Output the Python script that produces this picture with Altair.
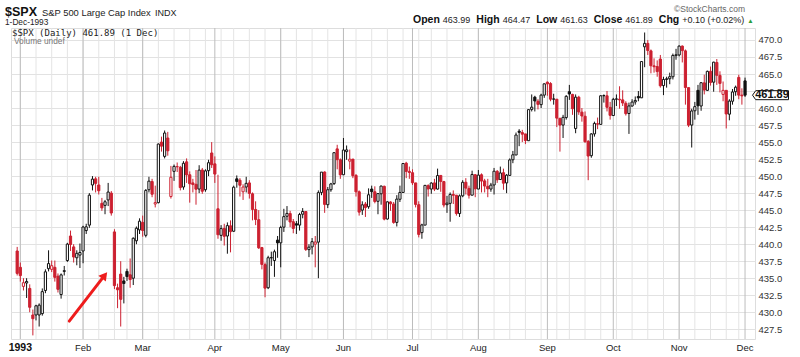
import altair as alt
import pandas as pd

# ---------------- data ----------------
PREV_CLOSE = 438.82  # close before the first candle (30-Dec-1992)
HOLIDAYS = ["1993-02-15", "1993-04-09", "1993-05-31", "1993-07-05", "1993-09-06", "1993-11-25"]
MONTH_LABELS = ["1993", "Feb", "Mar", "Apr", "May", "Jun", "Jul", "Aug", "Sep", "Oct", "Nov", "Dec"]
Y_TICKS = [427.5, 430.0, 432.5, 435.0, 437.5, 440.0, 442.5, 445.0, 447.5, 450.0,
           452.5, 455.0, 457.5, 460.0, 462.5, 465.0, 467.5, 470.0]

OPEN = [439.0,
    436.6, 433.8, 434.3, 433.5, 429.6, 429.6, 429.6, 429.8, 433.2, 436.4, 436.3, 436.6, 435.3, 432.6, 436.0, 437.6, 441.2, 439.6, 438.0, 438.4,
    439.0, 442.0, 442.8, 448.7, 449.6, 448.7, 446.0, 445.7, 446.5, 447.5, 441.8, 433.6, 435.6, 434.6, 436.0, 435.5, 435.0, 440.5, 442.1,
    443.2, 441.3, 448.0, 449.2, 445.9, 446.1, 455.0, 452.9, 455.6, 447.0, 450.7, 451.4, 451.3, 448.4, 452.1, 450.2, 449.0, 448.8, 448.1, 450.9, 448.0, 450.8, 453.4,
    451.8, 445.2, 441.3, 442.3, 441.2, 442.7, 441.9, 449.6, 449.4, 447.7, 448.4, 449.0, 447.4, 445.1, 443.6, 439.5, 437.0, 433.6, 438.0, 437.6, 440.6,
    440.2, 442.5, 444.1, 444.5, 443.3, 443.0, 442.8, 444.4, 444.8, 439.2, 439.6, 440.0, 440.3, 447.6, 450.6, 445.8, 448.0, 448.9, 454.0, 452.4,
    450.2, 453.6, 452.2, 452.5, 450.1, 447.7, 445.0, 445.9, 445.5, 448.1, 447.7, 446.3, 447.4, 448.5, 443.7, 446.2, 445.9, 443.2, 446.6, 447.6, 451.9, 450.7,
    450.5, 449.0, 445.8, 441.7, 442.8, 448.6, 448.1, 449.0, 448.1, 450.1, 449.2, 445.8, 446.0, 447.3, 447.2, 444.5, 447.1, 449.1, 448.2, 447.2, 450.2,
    448.1, 450.2, 449.3, 448.5, 448.1, 448.7, 450.7, 449.5, 450.5, 449.0, 450.1, 452.4, 453.1, 456.6, 456.4, 456.2, 455.2, 459.8, 461.6, 461.0, 460.5, 461.9,
    463.8, 463.6, 461.3, 461.3, 458.5, 457.5, 458.6, 462.4, 462.0, 457.0, 461.6, 459.4, 458.8, 455.1, 453.0, 456.2, 457.7, 457.6, 461.8, 461.8, 460.1,
    458.9, 461.3, 461.3, 461.2, 460.7, 459.2, 460.3, 460.9, 461.7, 461.5, 469.0, 469.5, 468.4, 466.2, 466.1, 467.2, 463.3, 464.2, 464.3, 464.6, 467.7,
    467.8, 469.1, 468.4, 463.0, 457.5, 459.6, 462.6, 460.3, 463.7, 462.6, 465.4, 463.8, 466.7, 464.8, 462.0, 462.6, 459.1, 461.0, 462.4, 464.5, 461.9,
    463.99]

HIGH = [439.6,
    437.3, 435.0, 435.0, 434.1, 430.4, 431.1, 431.3, 433.5, 436.3, 439.1, 437.6, 437.6, 435.7, 435.7, 436.8, 440.2, 442.0, 440.0, 439.1, 440.1,
    442.7, 443.0, 447.5, 450.0, 449.9, 449.9, 446.8, 446.5, 449.0, 447.8, 442.2, 434.2, 437.5, 435.2, 436.4, 437.9, 441.0, 442.6, 443.8,
    444.2, 448.1, 449.9, 449.6, 448.6, 454.8, 455.8, 456.7, 456.5, 451.5, 451.7, 452.0, 451.5, 452.2, 452.6, 450.7, 449.6, 450.9, 451.6, 451.2, 451.0, 452.4, 455.0,
    452.9, 450.2, 442.8, 443.0, 443.2, 443.5, 448.6, 450.1, 449.7, 448.8, 449.9, 449.4, 447.6, 446.3, 445.0, 439.6, 437.3, 438.3, 438.9, 439.2, 441.2,
    442.7, 445.2, 445.6, 444.9, 443.7, 443.4, 444.6, 445.3, 444.8, 440.0, 440.9, 441.2, 447.9, 450.6, 450.7, 448.4, 449.0, 453.5, 454.6, 452.6,
    455.6, 454.5, 453.9, 452.5, 450.3, 447.9, 446.3, 446.2, 448.2, 448.6, 448.5, 447.5, 448.6, 448.6, 446.3, 446.3, 446.2, 447.2, 448.6, 451.9, 452.1, 451.4,
    451.0, 449.0, 446.3, 443.0, 448.7, 448.8, 449.1, 449.6, 451.1, 450.1, 449.3, 447.1, 447.6, 447.9, 447.2, 447.3, 449.4, 449.7, 448.6, 450.8, 450.3,
    450.9, 450.4, 449.6, 449.6, 449.0, 451.2, 450.9, 451.4, 451.1, 450.3, 452.6, 453.7, 456.4, 456.9, 456.8, 456.2, 459.8, 462.0, 461.8, 461.3, 462.1, 463.6,
    463.9, 463.8, 462.1, 461.3, 458.5, 459.0, 461.9, 463.4, 462.1, 462.0, 461.8, 460.0, 459.5, 455.3, 456.3, 458.0, 458.6, 461.9, 462.0, 462.5, 460.9,
    461.5, 462.0, 463.2, 462.6, 461.0, 460.8, 461.3, 461.7, 462.5, 466.9, 471.1, 470.0, 468.6, 467.3, 467.0, 467.8, 464.6, 464.6, 465.2, 468.0, 468.7,
    469.2, 469.2, 468.6, 463.0, 459.9, 460.9, 463.4, 463.8, 464.9, 465.5, 466.1, 466.8, 467.2, 465.4, 463.9, 462.6, 461.3, 462.8, 463.3, 464.9, 462.9,
    464.47]

LOW = [435.4,
    434.5, 433.2, 432.1, 430.0, 426.6, 428.8, 427.9, 429.5, 432.8, 436.0, 435.9, 434.5, 432.9, 432.0, 435.4, 437.4, 439.0, 437.3, 436.9, 436.5,
    437.2, 441.5, 442.4, 447.9, 447.6, 447.3, 444.9, 444.4, 445.6, 444.2, 433.4, 430.6, 427.9, 431.3, 434.6, 433.6, 434.0, 440.0, 441.5,
    441.1, 441.0, 447.6, 446.9, 445.4, 446.0, 453.6, 452.6, 453.0, 446.7, 449.3, 450.6, 447.9, 448.0, 449.0, 446.1, 447.6, 445.8, 447.5, 447.4, 447.7, 450.0, 451.2,
    449.0, 440.8, 440.5, 439.8, 438.6, 438.8, 441.8, 448.3, 447.0, 446.5, 447.6, 446.7, 443.5, 442.8, 439.3, 436.3, 432.2, 433.4, 436.8, 435.2, 438.0,
    436.6, 441.8, 443.5, 442.5, 441.6, 441.5, 442.0, 443.8, 439.0, 438.1, 438.5, 436.6, 435.0, 447.2, 444.6, 445.3, 447.7, 448.7, 451.0, 449.6,
    450.2, 452.4, 451.0, 449.7, 447.0, 444.2, 444.3, 444.0, 445.2, 446.8, 446.0, 444.4, 445.8, 443.5, 443.6, 444.9, 443.0, 442.6, 446.2, 447.6, 449.7, 449.6,
    448.7, 445.4, 441.0, 440.8, 442.8, 447.0, 447.4, 447.8, 448.0, 447.7, 445.4, 444.6, 443.3, 445.9, 444.2, 444.0, 446.9, 447.3, 446.7, 447.2, 446.9,
    448.1, 447.6, 447.6, 446.9, 447.7, 447.3, 449.0, 449.5, 448.0, 447.5, 450.1, 451.9, 453.1, 454.4, 455.0, 454.7, 455.2, 459.5, 459.5, 459.8, 460.0, 461.5,
    461.8, 461.0, 460.5, 457.2, 453.6, 455.6, 458.3, 461.2, 459.0, 456.3, 459.0, 458.0, 454.9, 449.4, 452.7, 455.8, 456.9, 457.6, 460.8, 459.5, 458.3,
    458.9, 460.3, 459.9, 460.3, 458.9, 456.2, 460.2, 460.5, 461.0, 461.5, 466.0, 467.8, 465.1, 465.2, 464.6, 463.0, 461.9, 463.0, 463.5, 464.2, 467.1,
    467.6, 466.7, 460.5, 457.2, 454.2, 458.3, 459.0, 459.6, 462.0, 462.5, 463.3, 462.4, 463.4, 462.3, 461.0, 457.0, 458.2, 460.5, 461.8, 461.3, 460.5,
    461.63]

CLOSE = [435.71,
    435.38, 434.34, 434.52, 430.73, 429.05, 430.95, 431.04, 433.03, 435.94, 437.15, 436.84, 435.13, 433.37, 435.49, 436.11, 440.01, 439.95, 438.11, 438.66, 438.78,
    442.52, 442.55, 447.20, 449.56, 448.93, 447.85, 445.33, 446.23, 447.66, 444.58, 433.91, 433.30, 431.90, 434.22, 435.24, 434.80, 440.87, 442.34, 443.38,
    442.01, 447.90, 449.26, 447.34, 446.11, 454.71, 454.40, 456.33, 453.72, 449.83, 451.43, 451.37, 448.31, 451.89, 450.18, 448.88, 448.76, 448.07, 450.88, 447.78, 450.77, 451.97, 451.67,
    450.30, 441.39, 442.29, 441.16, 442.73, 441.84, 448.37, 449.22, 448.66, 448.40, 448.94, 447.46, 445.10, 443.63, 439.46, 437.03, 433.54, 438.01, 438.02, 438.89, 440.19,
    442.46, 444.05, 444.52, 443.26, 442.31, 442.80, 444.36, 444.80, 439.23, 439.56, 440.37, 440.32, 447.57, 450.59, 445.84, 448.00, 448.85, 453.44, 452.41, 450.19,
    453.83, 453.85, 452.49, 450.06, 447.69, 444.71, 445.78, 445.38, 447.26, 447.71, 446.27, 447.43, 448.54, 443.68, 446.22, 445.93, 443.19, 446.62, 447.60, 451.85, 450.69, 450.53,
    449.02, 445.84, 441.43, 442.83, 448.64, 448.11, 448.98, 448.09, 450.08, 449.22, 445.75, 446.03, 447.31, 447.18, 444.51, 447.10, 449.09, 448.24, 447.19, 450.24, 448.13,
    450.15, 449.27, 448.54, 448.13, 448.68, 450.72, 449.45, 450.46, 448.96, 450.14, 452.38, 453.13, 456.04, 456.43, 456.16, 455.23, 459.77, 460.13, 461.04, 460.54, 461.90, 463.56,
    463.55, 461.30, 461.34, 458.52, 457.50, 458.63, 461.72, 462.06, 459.90, 461.60, 459.43, 458.83, 455.05, 452.95, 456.20, 457.74, 457.63, 461.80, 461.84, 460.11, 458.93,
    461.28, 461.34, 461.20, 460.74, 459.18, 460.31, 460.88, 461.12, 461.49, 466.83, 469.50, 468.45, 466.21, 466.07, 465.36, 463.27, 464.20, 464.30, 464.61, 467.73, 467.83,
    469.10, 468.44, 463.02, 457.49, 459.57, 460.21, 460.33, 463.72, 462.64, 465.39, 463.75, 466.74, 464.81, 463.62, 462.60, 459.13, 461.03, 462.36, 463.06, 461.90, 461.79,
    461.89]

# red annotation arrow (trading-day index, price)
ARROW_TAIL = [16.6, 428.7]
ARROW_END = [27.0, 434.9]
ARROW_HEAD = [27.6, 435.25]

# ---------------- derived table ----------------
dates = [pd.Timestamp("1992-12-31")] + [
    d for d in pd.bdate_range("1993-01-04", "1993-12-01") if d.strftime("%Y-%m-%d") not in HOLIDAYS
]
n = len(CLOSE)
assert len(dates) == n == len(OPEN) == len(HIGH) == len(LOW)

RED = "#cc2030"
BLACK = "#111111"
prev = [PREV_CLOSE] + CLOSE[:-1]
col = [BLACK if c >= p else RED for c, p in zip(CLOSE, prev)]
fill = ["#ffffff" if c > o else k for c, o, k in zip(CLOSE, OPEN, col)]
df = pd.DataFrame({"i": range(n), "o": OPEN, "h": HIGH, "l": LOW, "c": CLOSE, "col": col, "fill": fill})

month_idx = [1] + [k for k in range(2, n) if dates[k].month != dates[k - 1].month]
week_idx = [k for k in range(1, n) if dates[k].isocalendar()[1] != dates[k - 1].isocalendar()[1]]
months = pd.DataFrame({"i": month_idx, "lab": MONTH_LABELS})
weeks = pd.DataFrame({"i": week_idx})

W, H = 744, 311
FONT = "Liberation Sans"
xs = alt.Scale(domain=[-0.377, 233.58], nice=False, zero=False)
ys = alt.Scale(domain=[426.07, 471.76], nice=False, zero=False)
yaxis = alt.Axis(orient="right", values=Y_TICKS, format=".1f", grid=True, gridColor="#e2e2e2",
                 ticks=False, domain=False, labelPadding=3, labelFontSize=9.5, labelColor="#333333",
                 labelFont=FONT, title=None)

X = alt.X("i:Q", scale=xs, axis=None)

week_grid = alt.Chart(weeks).mark_rule(color="#e4e4e4", strokeWidth=1).encode(
    x=X, y=alt.value(0), y2=alt.value(H))
month_grid = alt.Chart(months).mark_rule(color="#bdbdbd", strokeWidth=1).encode(
    x=X, y=alt.value(0), y2=alt.value(H))

wicks = alt.Chart(df).mark_rule(strokeWidth=1).encode(
    x=X, y=alt.Y("l:Q", scale=ys, axis=yaxis), y2="h:Q",
    color=alt.Color("col:N", scale=None))
bodies = alt.Chart(df).mark_bar(size=2.2, strokeWidth=1).encode(
    x=X, y=alt.Y("o:Q", scale=ys, axis=yaxis), y2="c:Q",
    fill=alt.Fill("fill:N", scale=None), stroke=alt.Stroke("col:N", scale=None))

month_text = alt.Chart(months[months.i > 1]).mark_text(
    font=FONT, fontSize=9.5, color="#222222", baseline="top", align="center").encode(
    x=X, y=alt.value(H + 4), text="lab:N")
year_text = alt.Chart(months[months.i == 1]).mark_text(
    font=FONT, fontSize=10.5, fontWeight="bold", color="#111111", baseline="top", align="center").encode(
    x=X, y=alt.value(H + 4), text="lab:N")

arrow_df = pd.DataFrame({"x": [ARROW_TAIL[0]], "y": [ARROW_TAIL[1]], "x2": [ARROW_END[0]], "y2": [ARROW_END[1]]})
arrow_line = alt.Chart(arrow_df).mark_rule(color="#ee1c1c", strokeWidth=3, strokeCap="round").encode(
    x=alt.X("x:Q", scale=xs, axis=None), y=alt.Y("y:Q", scale=ys, axis=yaxis), x2="x2:Q", y2="y2:Q")
head_df = pd.DataFrame({"x": [ARROW_HEAD[0]], "y": [ARROW_HEAD[1]]})
arrow_head = alt.Chart(head_df).mark_point(shape="triangle", filled=True, color="#ee1c1c", size=90,
                                           angle=38, opacity=1).encode(
    x=alt.X("x:Q", scale=xs, axis=None), y=alt.Y("y:Q", scale=ys, axis=yaxis))

last = pd.DataFrame({"v": [CLOSE[-1]], "t": [f"{CLOSE[-1]:.2f}"]})
marker = alt.Chart(last).mark_point(
    shape="M -1 0 L -0.82 -0.25 L 1 -0.25 L 1 0.25 L -0.82 0.25 Z", size=1296, filled=True,
    fill="#ffffff", stroke="#111111", strokeWidth=1, opacity=1).encode(
    x=alt.value(759.5), y=alt.Y("v:Q", scale=ys, axis=yaxis))
marker_txt = alt.Chart(last).mark_text(font=FONT, fontSize=11, fontWeight="bold", color="#111111",
                                       baseline="middle", align="center").encode(
    x=alt.value(761), y=alt.Y("v:Q", scale=ys, axis=yaxis), text="t:N")


def label(text, x, y, size, weight="normal", color="#111111", align="left", font=FONT):
    return alt.Chart(pd.DataFrame({"t": [text]})).mark_text(
        font=font, fontSize=size, fontWeight=weight, color=color, align=align, baseline="alphabetic").encode(
        x=alt.value(x), y=alt.value(y), text="t:N")


# approximate Arial advance widths (em) used to lay out the info line
W_REG = {**{d: 0.556 for d in "0123456789"}, ".": 0.278, "+": 0.584, "-": 0.584, "(": 0.333,
         ")": 0.333, "%": 0.889, " ": 0.278}
W_BOLD = {"O": 0.778, "p": 0.611, "e": 0.556, "n": 0.611, "H": 0.722, "i": 0.278, "g": 0.611,
          "h": 0.611, "L": 0.611, "o": 0.611, "w": 0.778, "C": 0.722, "l": 0.278, "s": 0.556}


def text_w(s, table, size):
    return sum(table.get(ch, 0.556) for ch in s) * size


chg = CLOSE[-1] - CLOSE[-2]
pct = chg / CLOSE[-2] * 100
info = [("Open", f"{OPEN[-1]:.2f}"), ("High", f"{HIGH[-1]:.2f}"), ("Low", f"{LOW[-1]:.2f}"),
        ("Close", f"{CLOSE[-1]:.2f}"), ("Chg", f"{chg:+.2f} ({pct:+.2f}%)")]
BS, VS = 10.5, 9.0
info_layers = []
cx = 402
for lab, val in info:
    info_layers.append(label(lab, cx, -5, BS, "bold"))
    cx += text_w(lab, W_BOLD, BS) + 3
    info_layers.append(label(val, cx, -5, VS, color="#222222"))
    cx += text_w(val, W_REG, VS) + 6
info_layers.append(label("\u25b2", cx - 3, -5.5, 6.5, color="#2a9d3a"))

header = [
    label("$SPX", -6, -12.5, 12.5, "bold"),
    label("S&P 500 Large Cap Index", 31, -12.5, 9.4, color="#222222"),
    label("INDX", 144, -12.5, 9, color="#222222"),
    label("1-Dec-1993", -6, -3, 8.3, color="#222222"),
    label("\u00a9StockCharts.com", 734, -16.5, 8.5, color="#666666", align="right"),
    label(f"$SPX (Daily) {CLOSE[-1]:.2f} (1 Dec)", 1, 7.5, 9.0, color="#222222", font="DejaVu Sans Mono"),
    label("Volume undef", 3, 16, 8.3, color="#777777"),
] + info_layers

chart = alt.layer(
    week_grid, month_grid, wicks, bodies, month_text, year_text, arrow_line, arrow_head,
    marker, marker_txt, *header
).properties(
    width=W, height=H,
    autosize=alt.AutoSizeParams(type="none"),
    padding={"left": 11, "top": 28, "right": 45, "bottom": 18},
).configure_view(stroke="#b0b0b0", strokeWidth=1).configure(background="#ffffff")

chart.save("out.html", embed_options={"renderer": "svg", "actions": False})
